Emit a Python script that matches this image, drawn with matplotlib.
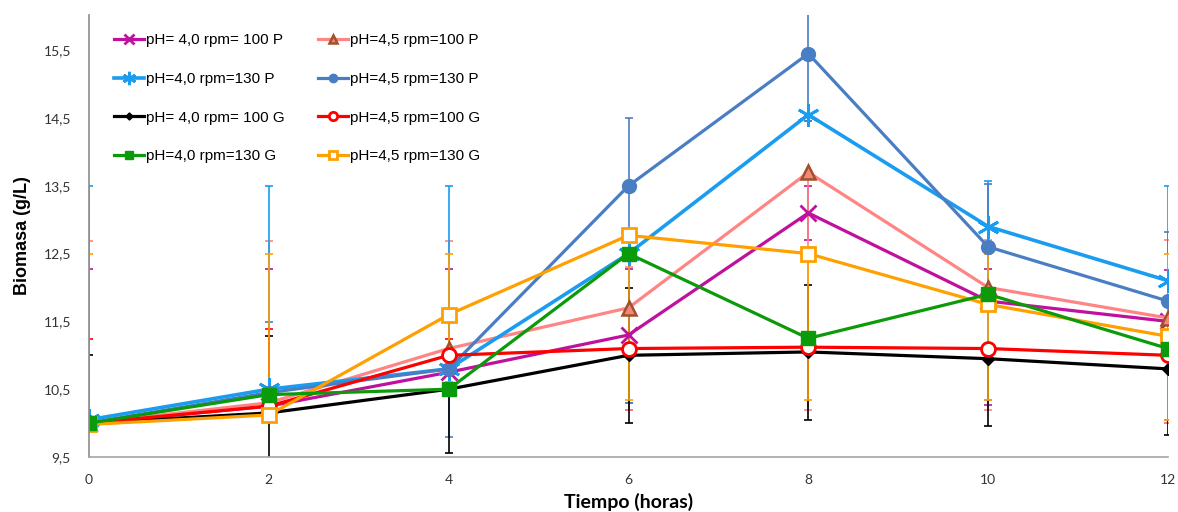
import matplotlib
matplotlib.use("Agg")
import matplotlib.pyplot as plt
import numpy as np

# ---------------- data ----------------
tiempo = [0, 2, 4, 6, 8, 10, 12]

labels = ["pH= 4,0 rpm= 100 P", "pH=4,0 rpm=130 P", "pH= 4,0 rpm= 100 G", "pH=4,0 rpm=130 G",
          "pH=4,5 rpm=100 P", "pH=4,5 rpm=130 P", "pH=4,5 rpm=100 G", "pH=4,5 rpm=130 G"]

ph40_100P = [10.0, 10.25, 10.75, 11.3, 13.1, 11.8, 11.5]
ph40_130P = [10.05, 10.5, 10.8, 12.5, 14.55, 12.9, 12.1]
ph40_100G = [10.0, 10.15, 10.5, 11.0, 11.05, 10.95, 10.8]
ph40_130G = [10.0, 10.42, 10.5, 12.5, 11.25, 11.9, 11.1]
ph45_100P = [10.0, 10.3, 11.1, 11.7, 13.7, 12.0, 11.55]
ph45_130P = [10.0, 10.45, 10.8, 13.5, 15.45, 12.6, 11.8]
ph45_100G = [10.0, 10.25, 11.0, 11.1, 11.12, 11.1, 11.0]
ph45_130G = [9.98, 10.12, 11.6, 12.77, 12.5, 11.75, 11.28]

# error bar limits (lower / upper bound)
lo_40_100P = [10.0, 10.25, 10.46, 10.2, 12.7, 10.27, 10.0]
hi_40_100P = [12.27, 12.27, 12.27, 12.27, 13.5, 12.28, 12.26]
lo_40_130P = [10.05, 10.5, 10.8, 10.3, 14.45, 10.34, 10.05]
hi_40_130P = [13.5, 13.5, 13.5, 12.5, 14.55, 13.57, 13.5]
lo_40_100G = [10.0, 9.3, 9.56, 10.0, 10.05, 9.96, 9.82]
hi_40_100G = [11.0, 11.29, 10.5, 12.0, 12.04, 10.95, 10.8]
lo_40_130G = [10.0, 10.42, 10.5, 12.5, 11.25, 11.9, 11.1]
hi_40_130G = [10.0, 10.42, 10.5, 12.5, 11.25, 11.9, 11.1]
lo_45_100P = [10.0, 10.3, 10.46, 10.2, 10.2, 10.2, 10.0]
hi_45_100P = [12.69, 12.69, 12.69, 12.3, 13.7, 12.7, 12.7]
lo_45_130P = [10.0, 10.45, 9.8, 10.3, 14.45, 12.6, 11.8]
hi_45_130P = [10.0, 11.49, 10.8, 14.5, 16.5, 13.53, 12.82]
lo_45_100G = [10.0, 10.25, 11.0, 11.1, 11.12, 11.1, 11.0]
hi_45_100G = [11.24, 11.39, 11.24, 11.1, 11.12, 11.1, 11.0]
lo_45_130G = [9.98, 10.12, 10.6, 10.34, 10.34, 10.34, 10.05]
hi_45_130G = [12.49, 12.49, 12.49, 12.77, 12.5, 12.5, 12.5]

y_ticks = [9.5, 10.5, 11.5, 12.5, 13.5, 14.5, 15.5]
x_ticks = [0, 2, 4, 6, 8, 10, 12]

# ---------------- styles ----------------
series = [
    # label idx, values, lo, hi, color, marker, ms, mfc, mec, mew, lw
    (0, ph40_100P, lo_40_100P, hi_40_100P, "#C0109E", "x", 12, "#C0109E", "#C0109E", 2.0, 2.3),
    (4, ph45_100P, lo_45_100P, hi_45_100P, "#FF8585", "^", 10, "#F4877A", "#A0502A", 1.8, 2.3),
    (1, ph40_130P, lo_40_130P, hi_40_130P, "#1A9CF0", (6, 2, 0), 16, "#1A9CF0", "#1A9CF0", 2.0, 2.6),
    (5, ph45_130P, lo_45_130P, hi_45_130P, "#4A7EC4", "o", 10, "#4A7EC4", "#4A7EC4", 1.0, 2.3),
    (2, ph40_100G, lo_40_100G, hi_40_100G, "#000000", "D", 6, "#000000", "#000000", 1.0, 2.3),
    (6, ph45_100G, lo_45_100G, hi_45_100G, "#FF0000", "o", 10, "white", "#FF0000", 2.0, 2.3),
    (7, ph45_130G, lo_45_130G, hi_45_130G, "#FFA000", "s", 10, "white", "#FFA000", 2.0, 2.3),
    (3, ph40_130G, lo_40_130G, hi_40_130G, "#0A9A0A", "s", 10, "#0A9A0A", "#0A9A0A", 1.0, 2.3),
]

fig = plt.figure(figsize=(11.78, 5.12), dpi=100)
ax = fig.add_axes([89 / 1178, 1 - 457 / 512, (1168 - 89) / 1178, (457 - 15) / 512])

handles = [None] * 8
for idx, vals, lo, hi, c, mk, ms, mfc, mec, mew, lw in series:
    v = np.array(vals)
    lower = np.clip(v - np.array(lo), 0, None)
    upper = np.clip(np.array(hi) - v, 0, None)
    ax.errorbar(tiempo, vals, yerr=[lower, upper], fmt="none", ecolor=c,
                elinewidth=1.2, capsize=3, capthick=1.2, zorder=1)
    (h,) = ax.plot(tiempo, vals, color=c, lw=lw, marker=mk, ms=ms, mfc=mfc,
                   mec=mec, mew=mew, label=labels[idx], zorder=2)
    handles[idx] = h

ax.set_xlim(0, 12)
ax.set_ylim(9.5, 16.02)
ax.set_yticks(y_ticks)
ax.set_yticklabels([f"{t:.1f}".replace(".", ",") for t in y_ticks])
ax.set_xticks(x_ticks)
ax.set_xticklabels([str(t) for t in x_ticks])
ax.tick_params(axis="both", length=0, labelsize=10, colors="#333333")
ax.tick_params(axis="y", pad=13)
ax.tick_params(axis="x", pad=12)
for lab in ax.get_xticklabels() + ax.get_yticklabels():
    lab.set_family("Lato")

for s in ["top", "right"]:
    ax.spines[s].set_visible(False)
ax.spines["left"].set_color("#8C8C8C")
ax.spines["bottom"].set_color("#A6A6A6")
ax.spines["left"].set_linewidth(1.2)
ax.spines["bottom"].set_linewidth(1.2)

ax.set_ylabel("Biomasa (g/L)", fontsize=13, fontweight="bold",
              family="Liberation Sans", labelpad=9)
ax.set_xlabel("Tiempo (horas)", fontsize=14, fontweight="bold",
              family="Lato", labelpad=5)

leg = ax.legend(handles=handles, ncol=2, loc="upper left",
                bbox_to_anchor=(0.01, 0.99), frameon=False,
                prop={"family": "Liberation Sans", "size": 11},
                markerscale=0.6, labelspacing=1.62, handlelength=2.0,
                handletextpad=0.1, columnspacing=2.2)

fig.savefig("out.png", dpi=100)
